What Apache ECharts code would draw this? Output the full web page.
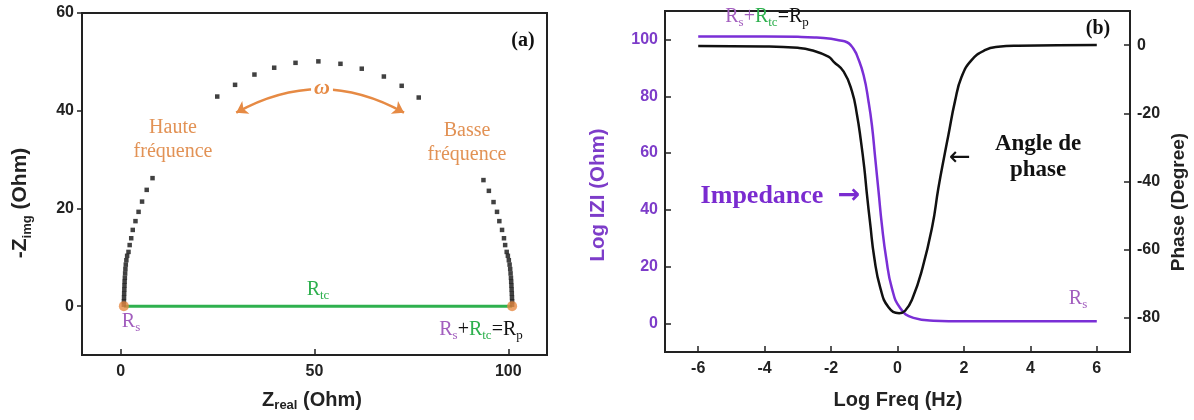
<!DOCTYPE html>
<html><head><meta charset="utf-8">
<script src="https://cdn.jsdelivr.net/npm/echarts@6/dist/echarts.min.js"></script>
<style>html,body{margin:0;padding:0;background:#fff}#c{width:1194px;height:420px}</style>
</head><body><div id="c"></div>
<script>
// ---- Panel (a): Nyquist data ----
const nyqRe = [0.8,0.82,0.85,0.88,0.92,0.96,1.0,1.06,1.13,1.2,1.3,1.45,1.65,2.0,2.3,2.7,3.1,3.8,4.6,5.5,6.7,8.2,
  24.9,29.5,34.5,39.6,45.1,51.0,56.7,62.2,67.9,72.5,76.9,
  93.6,95.0,96.2,97.1,97.7,98.4,98.9,99.2,99.6,99.9,100.15,100.35,100.5,100.6,100.7,100.76,100.82,100.87,100.92,100.96,101.0,101.0];
const nyqIm = [0.3,1.0,1.8,2.6,3.4,4.2,5.0,5.8,6.7,7.6,8.5,9.4,10.3,11.1,12.5,13.9,15.6,17.4,19.3,21.4,23.8,26.2,
  42.9,45.3,47.4,48.8,49.8,50.1,49.6,48.6,47.0,45.1,42.7,
  25.8,23.6,21.3,19.3,17.4,15.6,13.9,12.5,11.1,10.3,9.4,8.5,7.6,6.7,5.8,5.0,4.2,3.4,2.6,1.8,1.0,0.3];
const resistRe = [0.8, 101.0];   // Rs, Rs+Rtc
const resistIm = [0, 0];
const omegaArc = [[29.8, 39.6], [73.1, 39.6]];
const xTicksA = [0, 50, 100];
const yTicksA = [0, 20, 40, 60];

// ---- Panel (b): Bode data ----
const impLogF = [-6,-4,-3,-2.5,-2,-1.77,-1.52,-1.38,-1.3,-1.22,-1.02,-0.87,-0.77,-0.67,-0.57,-0.47,-0.34,-0.17,0.08,0.48,1.08,2,4,6];
const impVal  = [101,101,100.9,100.7,100.2,99.7,99.0,97.6,96.2,94.4,87.4,78.0,69.8,58.1,46.4,34.7,23.0,12.5,5.5,2.0,1.0,0.8,0.8,0.8];
const phaseLogF = [-6,-4,-3,-2.59,-2.08,-1.92,-1.62,-1.37,-1.22,-1.10,-1.00,-0.92,-0.82,-0.70,-0.52,-0.27,0.05,0.23,0.45,0.75,1.05,1.23,1.43,1.53,1.73,1.93,2.23,2.63,3.03,3.63,6];
const phaseVal  = [-0.3,-0.4,-0.8,-1.5,-3.4,-4.9,-7.8,-13.6,-20.4,-28.2,-36.0,-43.8,-52.6,-62.3,-71.1,-76.9,-78.6,-77.9,-74.3,-65.5,-53,-42,-31.5,-26.5,-16.5,-9.3,-4.4,-1.5,-0.5,-0.2,0];
const xTicksB = [-6, -4, -2, 0, 2, 4, 6];
const yTicksB = [0, 20, 40, 60, 80, 100];
const phaseTicks = [-80, -60, -40, -20, 0];

const serif = "'Liberation Serif','Times New Roman',serif";
const sans = "'Liberation Sans',Arial,sans-serif";
const PURPLE = '#7A2FD6', PURPLE_TXT = '#7D3CC9', RS_PURPLE = '#A25EBE', GREEN = '#2EB04E', ORANGE = '#E68A44', ORANGE_TXT = '#E29255';

function zip(a, b) { return a.map((v, i) => [v, b[i]]); }

function tok(color, size, fam, weight) {
  const sub = Math.round(size * 0.64);
  return {
    N: {fill: color, color: color, fontSize: size, lineHeight: Math.round(size * 1.12), verticalAlign: 'top', fontFamily: fam, fontWeight: weight || 'normal'},
    S: {fill: color, color: color, fontSize: sub, lineHeight: sub, verticalAlign: 'bottom', fontFamily: fam, fontWeight: weight || 'normal'}
  };
}
function richSet(defs) {
  const r = {};
  for (const k in defs) { const t = tok(...defs[k]); r[k] = t.N; r[k + 's'] = t.S; }
  return r;
}
function txt(x, y, text, style, rot) {
  return {type: 'text', x: x, y: y, rotation: rot || 0, z: 100, silent: true,
    style: Object.assign({text: text, align: 'center', verticalAlign: 'middle'}, style)};
}

const serifRich = richSet({
  p: [RS_PURPLE, 20, serif], g: [GREEN, 20, serif], k: ['#111', 20, serif]
});

const tickLab = (color) => ({fontSize: 16, fontWeight: 'bold', color: color || '#222', fontFamily: sans});
const tickLine = {color: '#222', width: 1.5};

const option = {
  animation: false,
  backgroundColor: '#fff',
  grid: [
    {left: 82, top: 13, width: 465, height: 342, show: true, borderColor: '#222', borderWidth: 2, backgroundColor: 'transparent', containLabel: false, outerBoundsMode: 'none'},
    {left: 665, top: 11, width: 465, height: 341, show: true, borderColor: '#222', borderWidth: 2, backgroundColor: 'transparent', containLabel: false, outerBoundsMode: 'none'}
  ],
  xAxis: [
    {type: 'value', gridIndex: 0, min: -10, max: 110,
      axisLine: {show: false, onZero: false}, splitLine: {show: false},
      axisTick: {show: true, inside: true, length: 6, customValues: xTicksA, lineStyle: tickLine},
      axisLabel: Object.assign({customValues: xTicksA, margin: 9}, tickLab())},
    {type: 'value', gridIndex: 1, min: -7, max: 7,
      axisLine: {show: false, onZero: false}, splitLine: {show: false},
      axisTick: {show: true, inside: true, length: 6, customValues: xTicksB, lineStyle: tickLine},
      axisLabel: Object.assign({customValues: xTicksB, margin: 9}, tickLab())}
  ],
  yAxis: [
    {type: 'value', gridIndex: 0, min: -10, max: 60,
      axisLine: {show: false, onZero: false}, splitLine: {show: false},
      axisTick: {show: true, inside: false, length: 5, customValues: yTicksA, lineStyle: tickLine},
      axisLabel: Object.assign({customValues: yTicksA, margin: 8}, tickLab())},
    {type: 'value', gridIndex: 1, min: -10, max: 110, position: 'left',
      axisLine: {show: false, onZero: false}, splitLine: {show: false},
      axisTick: {show: true, inside: true, length: 6, customValues: yTicksB, lineStyle: tickLine},
      axisLabel: Object.assign({customValues: yTicksB, margin: 7}, tickLab(PURPLE_TXT))},
    {type: 'value', gridIndex: 1, min: -90, max: 10, position: 'right',
      axisLine: {show: false, onZero: false}, splitLine: {show: false},
      axisTick: {show: true, inside: true, length: 6, customValues: phaseTicks, lineStyle: tickLine},
      axisLabel: Object.assign({customValues: phaseTicks, margin: 7}, tickLab())}
  ],
  series: [
    {type: 'line', xAxisIndex: 0, yAxisIndex: 0, data: zip(resistRe, resistIm), symbol: 'none',
      lineStyle: {color: GREEN, width: 3}, z: 2},
    {type: 'scatter', xAxisIndex: 0, yAxisIndex: 0, data: zip(nyqRe, nyqIm), symbol: 'rect', symbolSize: 4.5,
      itemStyle: {color: '#111'}, z: 3},
    {type: 'scatter', xAxisIndex: 0, yAxisIndex: 0, data: zip(resistRe, resistIm), symbol: 'circle', symbolSize: 10,
      itemStyle: {color: ORANGE}, z: 4},
    {type: 'lines', coordinateSystem: 'cartesian2d', xAxisIndex: 0, yAxisIndex: 0, polyline: false,
      symbol: ['arrow', 'arrow'], symbolSize: 11, silent: true,
      lineStyle: {color: ORANGE, width: 2.5, opacity: 1, curveness: 0.28},
      data: [{coords: omegaArc}], z: 5},
    {type: 'line', xAxisIndex: 1, yAxisIndex: 1, data: zip(impLogF, impVal), symbol: 'none', smooth: 0.5,
      lineStyle: {color: PURPLE, width: 2.5}, z: 2},
    {type: 'line', xAxisIndex: 1, yAxisIndex: 2, data: zip(phaseLogF, phaseVal), symbol: 'none', smooth: 0.5,
      lineStyle: {color: '#111', width: 2.5}, z: 3}
  ],
  graphic: [
    // axis titles
    txt(22, 203, '{N|-Z}{Ns|img}{N| (Ohm)}', {rich: richSet({N: ['#222', 21, sans, 'bold']})}, Math.PI / 2),
    txt(312, 401, '{N|Z}{Ns|real}{N| (Ohm)}', {rich: richSet({N: ['#222', 20, sans, 'bold']})}),
    txt(898, 400, 'Log Freq (Hz)', {fill: '#222', fontSize: 20, fontWeight: 'bold', fontFamily: sans}),
    txt(598, 195, 'Log IZI (Ohm)', {fill: PURPLE_TXT, fontSize: 20.5, fontWeight: 'bold', fontFamily: sans}, Math.PI / 2),
    txt(1179, 202, 'Phase (Degree)', {fill: '#222', fontSize: 19, fontWeight: 'bold', fontFamily: sans}, Math.PI / 2),
    // panel (a)
    txt(523, 41, '(a)', {fill: '#111', fontSize: 20, fontWeight: 'bold', fontFamily: serif}),
    txt(173, 140, 'Haute\nfréquence', {fill: ORANGE_TXT, fontSize: 20, fontFamily: serif, lineHeight: 24}),
    txt(467, 143, 'Basse\nfréquence', {fill: ORANGE_TXT, fontSize: 20, fontFamily: serif, lineHeight: 24}),
    txt(322, 88, 'ω', {fill: ORANGE, fontSize: 22, fontStyle: 'italic', fontWeight: 'bold', fontFamily: serif, backgroundColor: '#fff', padding: [0, 3, 0, 3]}),
    txt(318, 291, '{g|R}{gs|tc}', {rich: serifRich}),
    txt(131, 323, '{p|R}{ps|s}', {rich: serifRich}),
    txt(481, 331, '{p|R}{ps|s}{k|+}{g|R}{gs|tc}{k|=R}{ks|p}', {rich: serifRich}),
    // panel (b)
    txt(1098, 29, '(b)', {fill: '#111', fontSize: 20, fontWeight: 'bold', fontFamily: serif}),
    txt(767, 18, '{p|R}{ps|s}{p|+}{g|R}{gs|tc}{k|=R}{ks|p}', {rich: serifRich}),
    txt(762, 196, 'Impedance', {fill: '#7A2BD0', fontSize: 26, fontWeight: 'bold', fontFamily: serif}),
    txt(849, 196, '→', {fill: '#7A2BD0', fontSize: 27, fontWeight: 'bold', fontFamily: "'DejaVu Sans',sans-serif"}),
    txt(1038, 157, 'Angle de\nphase', {fill: '#111', fontSize: 23, fontWeight: 'bold', fontFamily: serif, lineHeight: 26}),
    txt(960, 158, '←', {fill: '#111', fontSize: 26, fontFamily: "'DejaVu Sans',sans-serif"}),
    txt(1078, 300, '{p|R}{ps|s}', {rich: serifRich})
  ]
};
const chart = echarts.init(document.getElementById('c'), null, {renderer: 'canvas'});
chart.setOption(option);
</script></body></html>
